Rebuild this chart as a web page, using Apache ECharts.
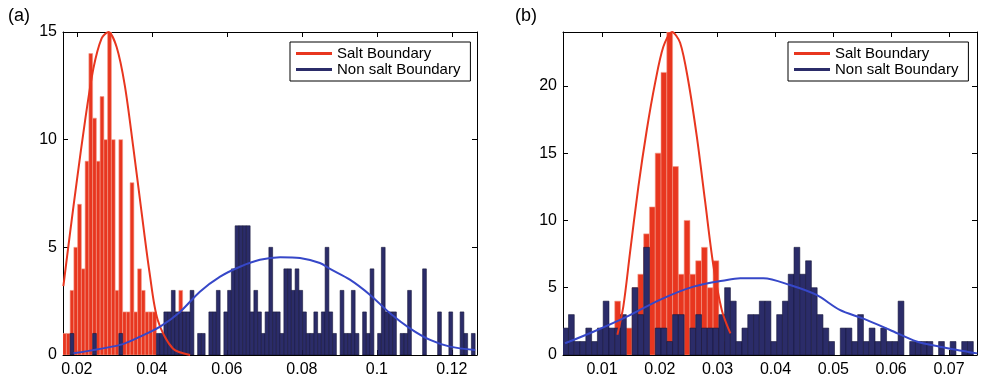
<!doctype html>
<html lang="en">
<head>
<meta charset="UTF-8">
<title>Salt boundary histograms</title>
<script src="https://cdn.jsdelivr.net/npm/echarts@6/dist/echarts.min.js"></script>
<style>
  html, body { margin: 0; padding: 0; background: #fff; }
  #main { width: 983px; height: 390px; }
</style>
</head>
<body>
<div id="main"></div>
<script>
// histogram bins are 0.001 wide in both panels
var binWidth = 0.001;
var binStartA = 0.0162;
var binStartB = 0.0032;

// panel (a) counts per bin
var saltA = [1, 1, 3, 5, 7, 4, 9, 14, 11, 9, 12, 10, 15, 10, 3, 10, 2, 2, 8, 2,
             4, 3, 2, 2, 2, 0, 0, 0, 0, 0, 0, 3];
var nonSaltA = [0, 0, 1, 0, 0, 0, 0, 0, 1, 0, 0, 0, 0, 0, 0, 1, 0, 0, 0, 0,
                0, 0, 0, 0, 0, 1, 1, 2, 2, 3, 2, 2, 2, 2, 3, 0, 1, 1, 0, 2,
                2, 3, 0, 2, 3, 4, 6, 6, 6, 6, 2, 3, 2, 1, 2, 5, 2, 2, 1, 4,
                4, 3, 4, 3, 2, 1, 1, 2, 1, 2, 5, 2, 1, 0, 3, 1, 1, 3, 1, 0,
                2, 1, 4, 0, 1, 5, 2, 2, 2, 0, 1, 1, 3, 0, 0, 0, 4, 0, 0, 0,
                2, 0, 0, 2, 0, 0, 2, 1, 0, 1];

// panel (b) counts per bin
var saltB = [0, 0, 0, 0, 0, 0, 0, 0, 0, 4, 2, 2, 5, 6, 9, 11, 15, 21, 24, 14,
             6, 10, 6, 7, 8, 5, 7, 1];
var nonSaltB = [2, 3, 1, 1, 2, 1, 2, 4, 2, 2, 3, 0, 5, 3, 8, 0, 2, 2, 1, 3,
                3, 0, 2, 3, 2, 2, 2, 3, 5, 4, 1, 2, 3, 3, 4, 4, 1, 3, 4, 6,
                8, 6, 7, 5, 3, 2, 1, 0, 2, 2, 1, 3, 1, 2, 1, 2, 1, 1, 4, 0,
                1, 1, 1, 1, 0, 1, 0, 1, 0, 1, 1];

// fitted curves: [x, count]
var saltFitA = [[0.0164, 3.2], [0.0182, 5.7], [0.0200, 8.1], [0.0222, 10.9], [0.0244, 13.3],
                [0.0266, 14.7], [0.0284, 15.0], [0.0306, 14.3], [0.0328, 12.5], [0.0350, 9.7],
                [0.0372, 6.7], [0.0394, 3.8], [0.0416, 1.6], [0.0456, 0.3], [0.0502, 0.0]];
var nonSaltFitA = [[0.0191, 0.08], [0.0315, 0.47], [0.0368, 0.85], [0.0422, 1.32], [0.0475, 2.0],
                   [0.0528, 2.94], [0.0582, 3.64], [0.0635, 4.1], [0.0688, 4.42], [0.0742, 4.54],
                   [0.0795, 4.5], [0.0848, 4.27], [0.0875, 4.0], [0.0928, 3.5], [0.0982, 2.79],
                   [0.1035, 1.94], [0.1088, 1.24], [0.1142, 0.70], [0.1195, 0.39], [0.1262, 0.23]];
var saltFitB = [[0.01265, 1.5], [0.01368, 3.6], [0.01484, 7.6], [0.01628, 12.5], [0.01773, 16.7],
                [0.01917, 20.2], [0.0206, 22.9], [0.0221, 24.0], [0.0235, 23.2], [0.0249, 20.4],
                [0.0264, 16.2], [0.0278, 11.5], [0.0292, 6.8], [0.0307, 3.35], [0.0322, 1.6]];
var nonSaltFitB = [[0.0036, 0.87], [0.0085, 1.73], [0.0143, 2.85], [0.0200, 4.1], [0.0258, 5.08],
                   [0.0316, 5.58], [0.0339, 5.7], [0.0379, 5.7], [0.0425, 5.2], [0.0471, 4.46],
                   [0.0511, 3.35], [0.0552, 2.7], [0.0598, 1.86], [0.0644, 1.0], [0.0684, 0.62],
                   [0.0749, 0.12]];

// tick labels
var xTicksA = [0.02, 0.04, 0.06, 0.08, 0.1, 0.12];
var yTicksA = [0, 5, 10, 15];
var xTicksB = [0.01, 0.02, 0.03, 0.04, 0.05, 0.06, 0.07];
var yTicksB = [0, 5, 10, 15, 20];

var seriesNames = ['Salt Boundary', 'Non salt Boundary'];

var RED = '#e8361f';
var NAVY = '#2b2c69';
var BLUE = '#3647c8';
var FONT = 'Liberation Sans';

function toBins(start, counts) {
    var out = [];
    counts.forEach(function (n, i) {
        if (n > 0) out.push([start + (i + 0.5) * binWidth, n]);
    });
    return out;
}

function histItem(params, api) {
    var x = api.value(0), n = api.value(1);
    var p0 = api.coord([x - binWidth / 2, 0]);
    var p1 = api.coord([x + binWidth / 2, n]);
    return {
        type: 'rect',
        shape: { x: p0[0], y: p1[1], width: p1[0] - p0[0], height: p0[1] - p1[1] },
        style: api.style()
    };
}

function xAxis(grid, pos, min, max, ticks) {
    return {
        type: 'value', gridIndex: grid, position: pos, min: min, max: max,
        axisLine: { show: true, onZero: false, lineStyle: { color: '#000', width: 1 } },
        axisTick: { show: true, inside: true, length: 5, customValues: ticks, lineStyle: { color: '#000' } },
        axisLabel: { show: pos === 'bottom', customValues: ticks, color: '#000', fontSize: 16, fontFamily: FONT, margin: 7 },
        splitLine: { show: false }
    };
}
function yAxis(grid, pos, max, ticks) {
    return {
        type: 'value', gridIndex: grid, position: pos, min: 0, max: max,
        axisLine: { show: true, onZero: false, lineStyle: { color: '#000', width: 1 } },
        axisTick: { show: true, inside: true, length: 5, customValues: ticks, lineStyle: { color: '#000' } },
        axisLabel: { show: pos === 'left', customValues: ticks, color: '#000', fontSize: 16, fontFamily: FONT, margin: 6 },
        splitLine: { show: false }
    };
}

function bars(name, axis, start, counts, fill, edge, z) {
    return {
        name: name, type: 'custom', xAxisIndex: axis, yAxisIndex: axis, z: z,
        renderItem: histItem, clip: true,
        encode: { x: 0, y: 1 },
        itemStyle: { color: fill, borderColor: edge, borderWidth: 0.6 },
        data: toBins(start, counts)
    };
}
function curve(axis, pts, color) {
    return {
        type: 'line', xAxisIndex: axis, yAxisIndex: axis, z: 5,
        smooth: 0.3, symbol: 'none', silent: true,
        lineStyle: { color: color, width: 2 },
        data: pts
    };
}
function legendBox(left) {
    return {
        data: seriesNames, left: left, top: 42, orient: 'vertical',
        icon: 'rect', itemWidth: 36, itemHeight: 3, itemGap: 1,
        itemStyle: { borderWidth: 0 },
        padding: [4, 10, 4, 6], borderColor: '#000', borderWidth: 1, backgroundColor: '#fff',
        selectedMode: false,
        textStyle: { fontSize: 15, fontFamily: FONT, color: '#000' }
    };
}

var myChart = echarts.init(document.getElementById('main'));
myChart.setOption({
    animation: false,
    backgroundColor: '#fff',
    grid: [
        { left: 63, top: 32, width: 414, height: 323 },
        { left: 563, top: 32, width: 414, height: 323 }
    ],
    xAxis: [
        xAxis(0, 'bottom', 0.0163, 0.1267, xTicksA),
        xAxis(1, 'bottom', 0.00325, 0.07484, xTicksB),
        xAxis(0, 'top', 0.0163, 0.1267, xTicksA),
        xAxis(1, 'top', 0.00325, 0.07484, xTicksB)
    ],
    yAxis: [
        yAxis(0, 'left', 15, yTicksA),
        yAxis(1, 'left', 24, yTicksB),
        yAxis(0, 'right', 15, yTicksA),
        yAxis(1, 'right', 24, yTicksB)
    ],
    legend: [legendBox(290), legendBox(788)],
    graphic: [
        { type: 'text', left: 8, top: 7, style: { text: '(a)', font: '18px "Liberation Sans"', fill: '#000' } },
        { type: 'text', left: 515, top: 7, style: { text: '(b)', font: '18px "Liberation Sans"', fill: '#000' } }
    ],
    series: [
        bars(seriesNames[0], 0, binStartA, saltA, RED, '#f49a88', 2),
        bars(seriesNames[1], 0, binStartA, nonSaltA, NAVY, '#15153a', 3),
        curve(0, saltFitA, RED),
        curve(0, nonSaltFitA, BLUE),
        bars(seriesNames[0], 1, binStartB, saltB, RED, '#f49a88', 2),
        bars(seriesNames[1], 1, binStartB, nonSaltB, NAVY, '#15153a', 3),
        curve(1, saltFitB, RED),
        curve(1, nonSaltFitB, BLUE)
    ]
});
</script>
</body>
</html>
